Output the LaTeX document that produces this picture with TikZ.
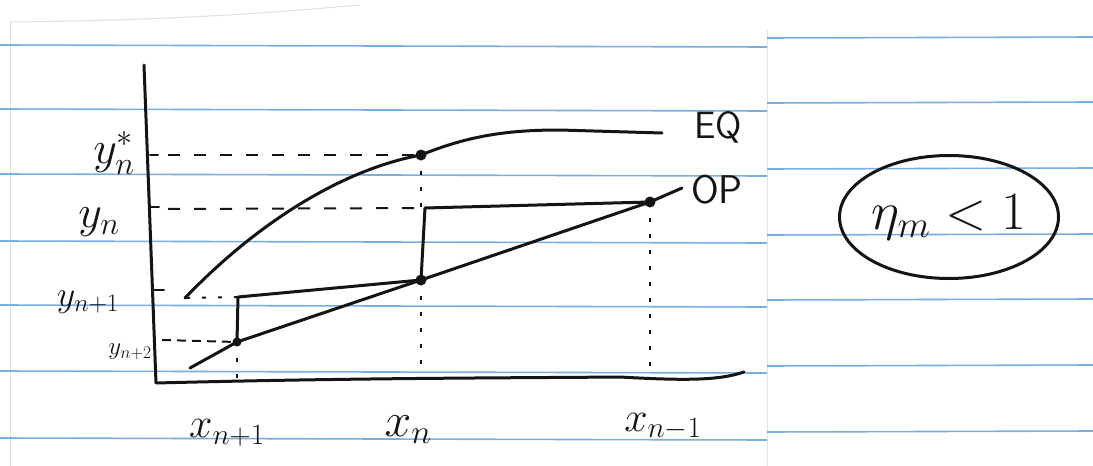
\RequirePackage{fix-cm}
\documentclass[tikz,border=0pt]{standalone}
\usetikzlibrary{shapes.geometric}
\definecolor{rule}{RGB}{120,175,225}
\definecolor{inkc}{RGB}{20,20,20}
\newcommand{\fsz}[1]{\fontsize{#1}{#1}\selectfont}
\begin{document}
\begin{tikzpicture}[x=1pt,y=-1pt,
  ruleline/.style={rule,line width=1.6pt},
  pen/.style={draw=inkc,line width=3pt,line cap=round,line join=round},
  guide/.style={draw=inkc,line width=2pt,dash pattern=on 12pt off 14pt},
  dotguide/.style={draw=inkc,line width=2pt,dash pattern=on 4pt off 12pt},
  dot/.style={circle,fill=inkc,inner sep=0pt,minimum size=11pt},
  lab/.style={text=inkc,inner sep=0pt}]
\useasboundingbox (0,0) rectangle (1093,466);
\fill[white] (0,0) rectangle (1093,466);
% paper edges
\draw[gray!25,line width=1pt] (10,22) -- (10,466);
\draw[gray!20,line width=1pt] (767,30) -- (767,466);
\draw[gray!25,line width=1pt] (10,22) .. controls (200,20) and (300,10) .. (360,5);
% ruled lines, left sheet
\foreach \yy in {47,111,176,243,307,373,440}{
  \draw[ruleline] (0,\yy-2) -- (767,\yy);
}
% ruled lines, right sheet
\foreach \yy in {38,103,169,235,300,366,432}{
  \draw[ruleline] (767,\yy) -- (1093,\yy-1);
}
% axes
\coordinate (ytop) at (144,65);
\coordinate (orig) at (156,383);
\coordinate (xend) at (744,372);
\draw[pen] (ytop) -- (orig) .. controls (350,378) and (500,378) .. (620,377) .. controls (690,381) and (720,380) .. (xend);
% ticks
\draw[pen,line width=2pt] (150,155) -- (158,155);
\draw[pen,line width=2pt] (151,207) -- (159,207);
\draw[pen,line width=2pt] (154,290) -- (164,290);
% key points
\coordinate (eqs) at (185,298);
\coordinate (eqend) at (662,133);
\node[dot] (pe) at (421,155) {};
\node[dot] (pn) at (421,280) {};
\node[dot] (pm) at (650,202) {};
\node[dot,minimum size=9pt] (pp) at (237,342) {};
\coordinate (ops) at (190,368);
\coordinate (opend) at (682,188);
\coordinate (stepA) at (425,208);
\coordinate (stepB) at (238,297);
% EQ curve
\draw[pen] (eqs) .. controls (255,225) and (340,170) .. (pe.center)
  .. controls (470,135) and (510,130) .. (560,130) -- (eqend);
% OP line
\draw[pen] (ops) -- (pp.center) -- (pn.center) -- (pm.center) -- (opend);
% staircase
\draw[pen] (pn.center) -- (stepA) -- (pm.center);
\draw[pen] (pn.center) -- (stepB) -- (pp.center);
% horizontal guides
\coordinate (gs) at (168,155);
\coordinate (gn) at (168,209);
\coordinate (gp) at (162,340);
\draw[guide] (gs) -- (pe.center);
\draw[guide] (gn) -- (stepA);
\draw[dotguide] (stepB) -- (eqs);
\draw[guide,dash pattern=on 9pt off 6pt] (gp) -- (pp.center);
% vertical guides
\coordinate (ve) at (421,208);
\coordinate (vn) at (421,375);
\coordinate (vm) at (650,366);
\coordinate (vp) at (237,378);
\draw[dotguide] (pe.center) -- (ve);
\draw[dotguide] (pn.center) -- (vn);
\draw[dotguide] (pm.center) -- (vm);
\draw[dotguide] (pp.center) -- (vp);
% labels
\node[lab,font=\fsz{46}] (lys) at (114,153) {$y_n^{*}$};
\node[lab,font=\fsz{46}] (lyn) at (99,222) {$y_n$};
\node[lab,font=\fsz{36}] (lyn1) at (88,302) {$y_{n+1}$};
\node[lab,font=\fsz{25}] (lyn2) at (130,352) {$y_{n+2}$};
\node[lab,font=\fsz{42}] (lx1) at (227,433) {$x_{n+1}$};
\node[lab,font=\fsz{48}] (lx0) at (408,430) {$x_n$};
\node[lab,font=\fsz{42}] (lxm) at (663,427) {$x_{n-1}$};
\node[lab,font=\sffamily\fsz{38}] (leq) at (718,127) {EQ};
\node[lab,font=\sffamily\fsz{40}] (lop) at (717,190) {OP};
% eta box
\node[ellipse,draw=inkc,line width=3pt,minimum width=203pt,minimum height=123pt,inner sep=0pt,
  font=\fsz{54},text=inkc] (eta) at (949,217) {$\eta_m < 1$};
\end{tikzpicture}
\end{document}
